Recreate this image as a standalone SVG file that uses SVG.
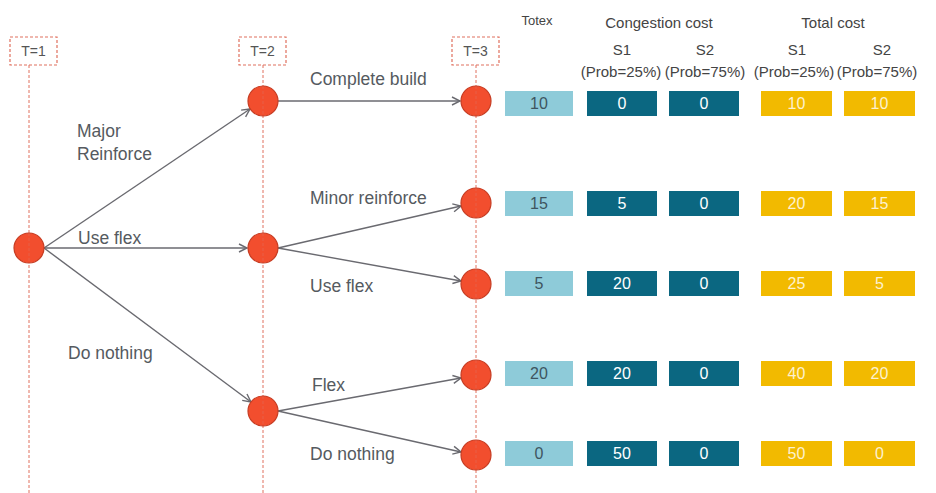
<svg xmlns="http://www.w3.org/2000/svg" width="936" height="493" viewBox="0 0 936 493">
<defs>
<marker id="arr" markerUnits="userSpaceOnUse" markerWidth="12" markerHeight="12" refX="9" refY="5" orient="auto" viewBox="0 0 12 10">
<path d="M1,1 L9,5 L1,9" fill="none" stroke="#6a6a70" stroke-width="1.4"/>
</marker>
<style>
text{font-family:"Liberation Sans",Arial,sans-serif;}
.tl{font-size:14px;fill:#555555;text-anchor:middle;}
.tbox{fill:#fff;stroke:#e0705e;stroke-width:1.2;stroke-dasharray:3,2;}
.vline{stroke:#e0705e;stroke-width:1;stroke-dasharray:3,2;fill:none;}
.node{fill:#f24e2e;stroke:#c63c22;stroke-width:1.2;}
.edge{stroke:#6a6a70;stroke-width:1.4;fill:none;marker-end:url(#arr);}
.lbl{font-size:17.5px;fill:#555a60;}
.hd{font-size:15px;fill:#444444;text-anchor:middle;}
.tx{fill:#8ecbd9;}
.cg{fill:#0b6781;}
.tc{fill:#f2ba00;}
.v{font-size:16px;text-anchor:middle;}
.vtx{fill:#3e5560;}
.vcg{fill:#ffffff;}
.vtc{fill:#fdf1cf;}
</style>
</defs>
<rect width="936" height="493" fill="#ffffff"/>

<g id="timeline">
<line class="vline" x1="29" y1="65" x2="29" y2="493"/>
<line class="vline" x1="263" y1="65" x2="263" y2="493"/>
<line class="vline" x1="476" y1="65" x2="476" y2="493"/>
<g id="t1"><rect class="tbox" x="10" y="37" width="47" height="28"/><text class="tl" x="33.5" y="56">T=1</text></g>
<g id="t2"><rect class="tbox" x="239" y="37" width="47" height="28"/><text class="tl" x="262.5" y="56">T=2</text></g>
<g id="t3"><rect class="tbox" x="452" y="37" width="47" height="28"/><text class="tl" x="475.5" y="56">T=3</text></g>
</g>

<g id="connectors">
<line class="edge" x1="44" y1="248" x2="250" y2="109"/>
<line class="edge" x1="44" y1="248" x2="247" y2="248"/>
<line class="edge" x1="44" y1="248" x2="251" y2="402"/>
<line class="edge" x1="278" y1="101" x2="460" y2="101"/>
<line class="edge" x1="278" y1="248" x2="461" y2="206"/>
<line class="edge" x1="278" y1="248" x2="461" y2="281"/>
<line class="edge" x1="278" y1="411" x2="461" y2="378"/>
<line class="edge" x1="278" y1="411" x2="461" y2="452"/>
</g>

<g id="edge-labels">
<text class="lbl" x="77" y="137">Major</text>
<text class="lbl" x="77" y="160">Reinforce</text>
<text class="lbl" x="78" y="244">Use flex</text>
<text class="lbl" x="68" y="359">Do nothing</text>
<text class="lbl" x="310" y="85">Complete build</text>
<text class="lbl" x="310" y="204">Minor reinforce</text>
<text class="lbl" x="310" y="292">Use flex</text>
<text class="lbl" x="312" y="391">Flex</text>
<text class="lbl" x="310" y="460">Do nothing</text>
</g>

<g id="n1"><circle class="node" cx="29" cy="248" r="15"/></g>
<g id="n2a"><circle class="node" cx="263" cy="101" r="15"/></g>
<g id="n2b"><circle class="node" cx="263" cy="248" r="15"/></g>
<g id="n2c"><circle class="node" cx="263" cy="411" r="15"/></g>
<g id="n3a"><circle class="node" cx="476" cy="101" r="15"/></g>
<g id="n3b"><circle class="node" cx="476" cy="203" r="15"/></g>
<g id="n3c"><circle class="node" cx="476" cy="284" r="15"/></g>
<g id="n3d"><circle class="node" cx="476" cy="375" r="15"/></g>
<g id="n3e"><circle class="node" cx="476" cy="455" r="15"/></g>

<g id="vlines-over" opacity="0.5">
<line class="vline" x1="29" y1="233" x2="29" y2="263"/>
<line class="vline" x1="263" y1="86" x2="263" y2="116"/>
<line class="vline" x1="263" y1="233" x2="263" y2="263"/>
<line class="vline" x1="263" y1="396" x2="263" y2="426"/>
<line class="vline" x1="476" y1="86" x2="476" y2="116"/>
<line class="vline" x1="476" y1="188" x2="476" y2="218"/>
<line class="vline" x1="476" y1="269" x2="476" y2="299"/>
<line class="vline" x1="476" y1="360" x2="476" y2="390"/>
<line class="vline" x1="476" y1="440" x2="476" y2="470"/>
</g>

<g id="headers">
<text class="hd" x="537" y="25" style="font-size:13px">Totex</text>
<text class="hd" x="659" y="28">Congestion cost</text>
<text class="hd" x="833" y="28">Total cost</text>
<text class="hd" x="622" y="55">S1</text>
<text class="hd" x="705" y="55">S2</text>
<text class="hd" x="797" y="55">S1</text>
<text class="hd" x="882" y="55">S2</text>
<text class="hd" x="621" y="77">(Prob=25%)</text>
<text class="hd" x="705" y="77">(Prob=75%)</text>
<text class="hd" x="794" y="77">(Prob=25%)</text>
<text class="hd" x="877" y="77">(Prob=75%)</text>
</g>

<g id="row1">
<rect class="tx" x="505" y="91" width="68" height="25"/><text class="v vtx" x="539" y="109">10</text>
<rect class="cg" x="587" y="91" width="70" height="25"/><text class="v vcg" x="622" y="109">0</text>
<rect class="cg" x="669" y="91" width="70" height="25"/><text class="v vcg" x="704" y="109">0</text>
<rect class="tc" x="761" y="91" width="71" height="25"/><text class="v vtc" x="796.5" y="109">10</text>
<rect class="tc" x="844" y="91" width="71" height="25"/><text class="v vtc" x="879.5" y="109">10</text>
</g>
<g id="row2">
<rect class="tx" x="505" y="191" width="68" height="25"/><text class="v vtx" x="539" y="209">15</text>
<rect class="cg" x="587" y="191" width="70" height="25"/><text class="v vcg" x="622" y="209">5</text>
<rect class="cg" x="669" y="191" width="70" height="25"/><text class="v vcg" x="704" y="209">0</text>
<rect class="tc" x="761" y="191" width="71" height="25"/><text class="v vtc" x="796.5" y="209">20</text>
<rect class="tc" x="844" y="191" width="71" height="25"/><text class="v vtc" x="879.5" y="209">15</text>
</g>
<g id="row3">
<rect class="tx" x="505" y="271" width="68" height="25"/><text class="v vtx" x="539" y="289">5</text>
<rect class="cg" x="587" y="271" width="70" height="25"/><text class="v vcg" x="622" y="289">20</text>
<rect class="cg" x="669" y="271" width="70" height="25"/><text class="v vcg" x="704" y="289">0</text>
<rect class="tc" x="761" y="271" width="71" height="25"/><text class="v vtc" x="796.5" y="289">25</text>
<rect class="tc" x="844" y="271" width="71" height="25"/><text class="v vtc" x="879.5" y="289">5</text>
</g>
<g id="row4">
<rect class="tx" x="505" y="361" width="68" height="25"/><text class="v vtx" x="539" y="379">20</text>
<rect class="cg" x="587" y="361" width="70" height="25"/><text class="v vcg" x="622" y="379">20</text>
<rect class="cg" x="669" y="361" width="70" height="25"/><text class="v vcg" x="704" y="379">0</text>
<rect class="tc" x="761" y="361" width="71" height="25"/><text class="v vtc" x="796.5" y="379">40</text>
<rect class="tc" x="844" y="361" width="71" height="25"/><text class="v vtc" x="879.5" y="379">20</text>
</g>
<g id="row5">
<rect class="tx" x="505" y="441" width="68" height="25"/><text class="v vtx" x="539" y="459">0</text>
<rect class="cg" x="587" y="441" width="70" height="25"/><text class="v vcg" x="622" y="459">50</text>
<rect class="cg" x="669" y="441" width="70" height="25"/><text class="v vcg" x="704" y="459">0</text>
<rect class="tc" x="761" y="441" width="71" height="25"/><text class="v vtc" x="796.5" y="459">50</text>
<rect class="tc" x="844" y="441" width="71" height="25"/><text class="v vtc" x="879.5" y="459">0</text>
</g>
</svg>
